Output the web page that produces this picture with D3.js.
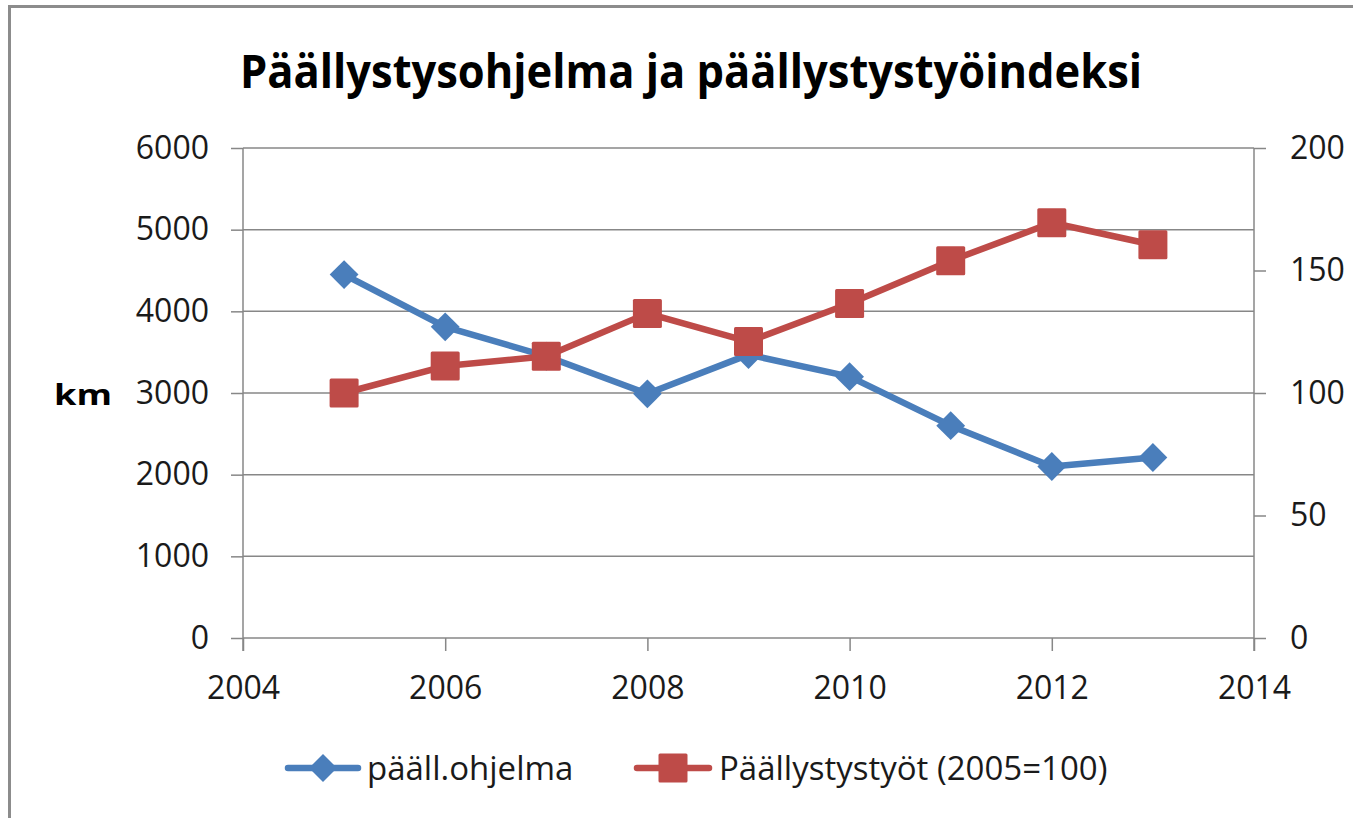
<!DOCTYPE html>
<html>
<head>
<meta charset="utf-8">
<script src="https://cdn.jsdelivr.net/npm/d3@7"></script>
<style>
  body { margin: 0; background: #fff; }
  svg { display: block; font-family: "Open Sans", sans-serif; }
</style>
</head>
<body>
<div id="chart"></div>
<script>
// data
const years = [2005, 2006, 2007, 2008, 2009, 2010, 2011, 2012, 2013];
const ohjelma = [4450, 3810, 3450, 2990, 3470, 3200, 2600, 2100, 2210];   // km, left axis
const indeksi = [100, 111, 115, 132.5, 121, 136.5, 154, 169.5, 160.5];   // 2005=100, right axis

const xTicks = [2004, 2006, 2008, 2010, 2012, 2014];
const leftTicks = [0, 1000, 2000, 3000, 4000, 5000, 6000];
const rightTicks = [0, 50, 100, 150, 200];

const title = "Päällystysohjelma ja päällystystyöindeksi";
const seriesNames = ["pääll.ohjelma", "Päällystystyöt (2005=100)"];

const width = 1353, height = 818;
const plot = { left: 243, right: 1254, top: 148, bottom: 638 };
const blue = "#4a7ebb", red = "#be4b48", gray = "#878787";

const svg = d3.select("#chart").append("svg")
  .attr("width", width)
  .attr("height", height);

// outer frame (only top and left edge are visible)
svg.append("path")
  .attr("d", `M9.5,${height} L9.5,6.5 L${width},6.5`)
  .attr("fill", "none")
  .attr("stroke", "#8c8c8c")
  .attr("stroke-width", 3);

const x = d3.scaleLinear().domain([2004, 2014]).range([plot.left, plot.right]);
const yL = d3.scaleLinear().domain([0, 6000]).range([plot.bottom, plot.top]);
const yR = d3.scaleLinear().domain([0, 200]).range([plot.bottom, plot.top]);

// gridlines
svg.append("g").selectAll("line")
  .data(leftTicks)
  .join("line")
  .attr("x1", plot.left).attr("x2", plot.right)
  .attr("y1", d => yL(d)).attr("y2", d => yL(d))
  .attr("stroke", gray).attr("stroke-width", 1.5);

// axes
function styleAxis(g) {
  g.select(".domain").remove();
  g.selectAll(".tick line").attr("stroke", gray).attr("stroke-width", 1.5);
  g.selectAll(".tick text").attr("fill", "#1a1a1a").style("font-size", "32px")
    .style("font-family", "'Open Sans', sans-serif");
}

svg.append("g")
  .attr("transform", `translate(${plot.left},0)`)
  .call(d3.axisLeft(yL).tickValues(leftTicks).tickSize(12).tickPadding(22).tickFormat(d3.format("d")))
  .call(styleAxis);

svg.append("g")
  .attr("transform", `translate(${plot.right},0)`)
  .call(d3.axisRight(yR).tickValues(rightTicks).tickSize(12).tickPadding(24).tickFormat(d3.format("d")))
  .call(styleAxis);

svg.append("g")
  .attr("transform", `translate(0,${plot.bottom})`)
  .call(d3.axisBottom(x).tickValues(xTicks).tickSize(13).tickPadding(25).tickFormat(d3.format("d")))
  .call(styleAxis);

// axis lines, extending down by the tick length like Excel does
[plot.left, plot.right].forEach(px => {
  svg.append("line")
    .attr("x1", px).attr("x2", px)
    .attr("y1", plot.top).attr("y2", plot.bottom + 13)
    .attr("stroke", gray).attr("stroke-width", 1.5);
});

// series
const ptsBlue = years.map((yr, i) => [x(yr), yL(ohjelma[i])]);
const ptsRed = years.map((yr, i) => [x(yr), yR(indeksi[i])]);

const line = d3.line();

svg.append("path")
  .attr("d", line(ptsBlue))
  .attr("fill", "none").attr("stroke", blue)
  .attr("stroke-width", 6.5).attr("stroke-linejoin", "round");

svg.append("g").selectAll("path")
  .data(ptsBlue)
  .join("path")
  .attr("d", d3.symbol(d3.symbolDiamond2, 530))
  .attr("transform", d => `translate(${d[0]},${d[1]})`)
  .attr("fill", blue);

svg.append("path")
  .attr("d", line(ptsRed))
  .attr("fill", "none").attr("stroke", red)
  .attr("stroke-width", 6.5).attr("stroke-linejoin", "round");

svg.append("g").selectAll("rect")
  .data(ptsRed)
  .join("rect")
  .attr("x", d => d[0] - 14.5).attr("y", d => d[1] - 14.5)
  .attr("width", 29).attr("height", 29)
  .attr("rx", 1.5)
  .attr("fill", red);

// title
svg.append("text")
  .attr("x", 691).attr("y", 88)
  .attr("text-anchor", "middle")
  .attr("textLength", 902)
  .attr("lengthAdjust", "spacingAndGlyphs")
  .style("font-size", "47px").style("font-weight", "bold")
  .attr("fill", "#000")
  .text(title);

// km label
svg.append("text")
  .attr("x", 54).attr("y", 405)
  .attr("textLength", 58)
  .attr("lengthAdjust", "spacingAndGlyphs")
  .style("font-size", "29px").style("font-weight", "bold")
  .attr("fill", "#000")
  .text("km");

// legend
const legY = 768;
const leg = svg.append("g");

leg.append("line")
  .attr("x1", 288).attr("x2", 358).attr("y1", legY).attr("y2", legY)
  .attr("stroke", blue).attr("stroke-width", 6.5).attr("stroke-linecap", "round");
leg.append("path")
  .attr("d", d3.symbol(d3.symbolDiamond2, 500))
  .attr("transform", `translate(323,${legY})`)
  .attr("fill", blue);
leg.append("text")
  .attr("x", 367).attr("y", legY + 12)
  .style("font-size", "33px").attr("fill", "#1a1a1a")
  .text(seriesNames[0]);

leg.append("line")
  .attr("x1", 637).attr("x2", 709).attr("y1", legY).attr("y2", legY)
  .attr("stroke", red).attr("stroke-width", 6.5).attr("stroke-linecap", "round");
leg.append("rect")
  .attr("x", 673 - 14.5).attr("y", legY - 14.5)
  .attr("width", 29).attr("height", 29).attr("rx", 1.5)
  .attr("fill", red);
leg.append("text")
  .attr("x", 719).attr("y", legY + 12)
  .style("font-size", "33px").attr("fill", "#1a1a1a")
  .text(seriesNames[1]);
</script>
</body>
</html>
